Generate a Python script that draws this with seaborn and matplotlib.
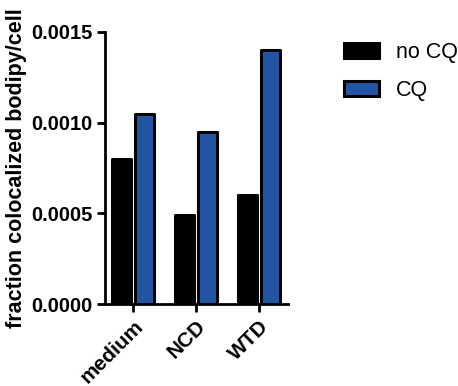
import numpy as np
import pandas as pd
import seaborn as sns
import matplotlib.pyplot as plt

# data
groups = ["medium", "NCD", "WTD"]
no_cq = [0.00080, 0.00049, 0.00060]
cq = [0.00105, 0.00095, 0.00140]

df = pd.DataFrame({
    "group": groups * 2,
    "treatment": ["no CQ"] * 3 + ["CQ"] * 3,
    "value": no_cq + cq,
})

sns.set_style("ticks")
plt.rcParams["font.family"] = ["Liberation Sans", "DejaVu Sans"]
plt.rcParams["text.color"] = "black"
plt.rcParams["axes.labelcolor"] = "black"
plt.rcParams["xtick.color"] = "black"
plt.rcParams["ytick.color"] = "black"

fig = plt.figure(figsize=(4.58, 3.86), dpi=100)
ax = fig.add_axes([0.229, 0.2124, 0.40, 0.705])

sns.barplot(data=df, x="group", y="value", hue="treatment",
            palette={"no CQ": "black", "CQ": "#2256a5"}, saturation=1,
            width=0.73, gap=0.18, edgecolor="black", linewidth=2.2,
            errorbar=None, ax=ax)
for p in ax.patches:
    p.set_joinstyle("round")

ax.set_xlim(-0.45, 2.46)
ax.set_ylim(0, 0.0015)
ax.set_yticks([0, 0.0005, 0.0010, 0.0015])
ax.set_yticklabels(["0.0000", "0.0005", "0.0010", "0.0015"],
                   fontsize=14.5, fontweight="bold")
ax.set_xticks(range(3))
ax.set_xticklabels(groups, fontsize=15, fontweight="bold",
                   rotation=45, ha="right", rotation_mode="anchor")
ax.set_xlabel("")
ax.set_ylabel("fraction colocalized bodipy/cell", fontsize=15.5,
              fontweight="bold", labelpad=3)
ax.tick_params(axis="both", width=2, length=6, pad=3)
for s in ["left", "bottom"]:
    ax.spines[s].set_linewidth(2)
    ax.spines[s].set_color("black")
sns.despine(ax=ax)

ax.legend(title=None, frameon=False, loc="upper left",
          bbox_to_anchor=(1.2, 1.035), fontsize=15.5,
          handlelength=1.6, handleheight=0.7, handletextpad=0.8,
          labelspacing=0.8)

fig.savefig("out.png", dpi=100)
